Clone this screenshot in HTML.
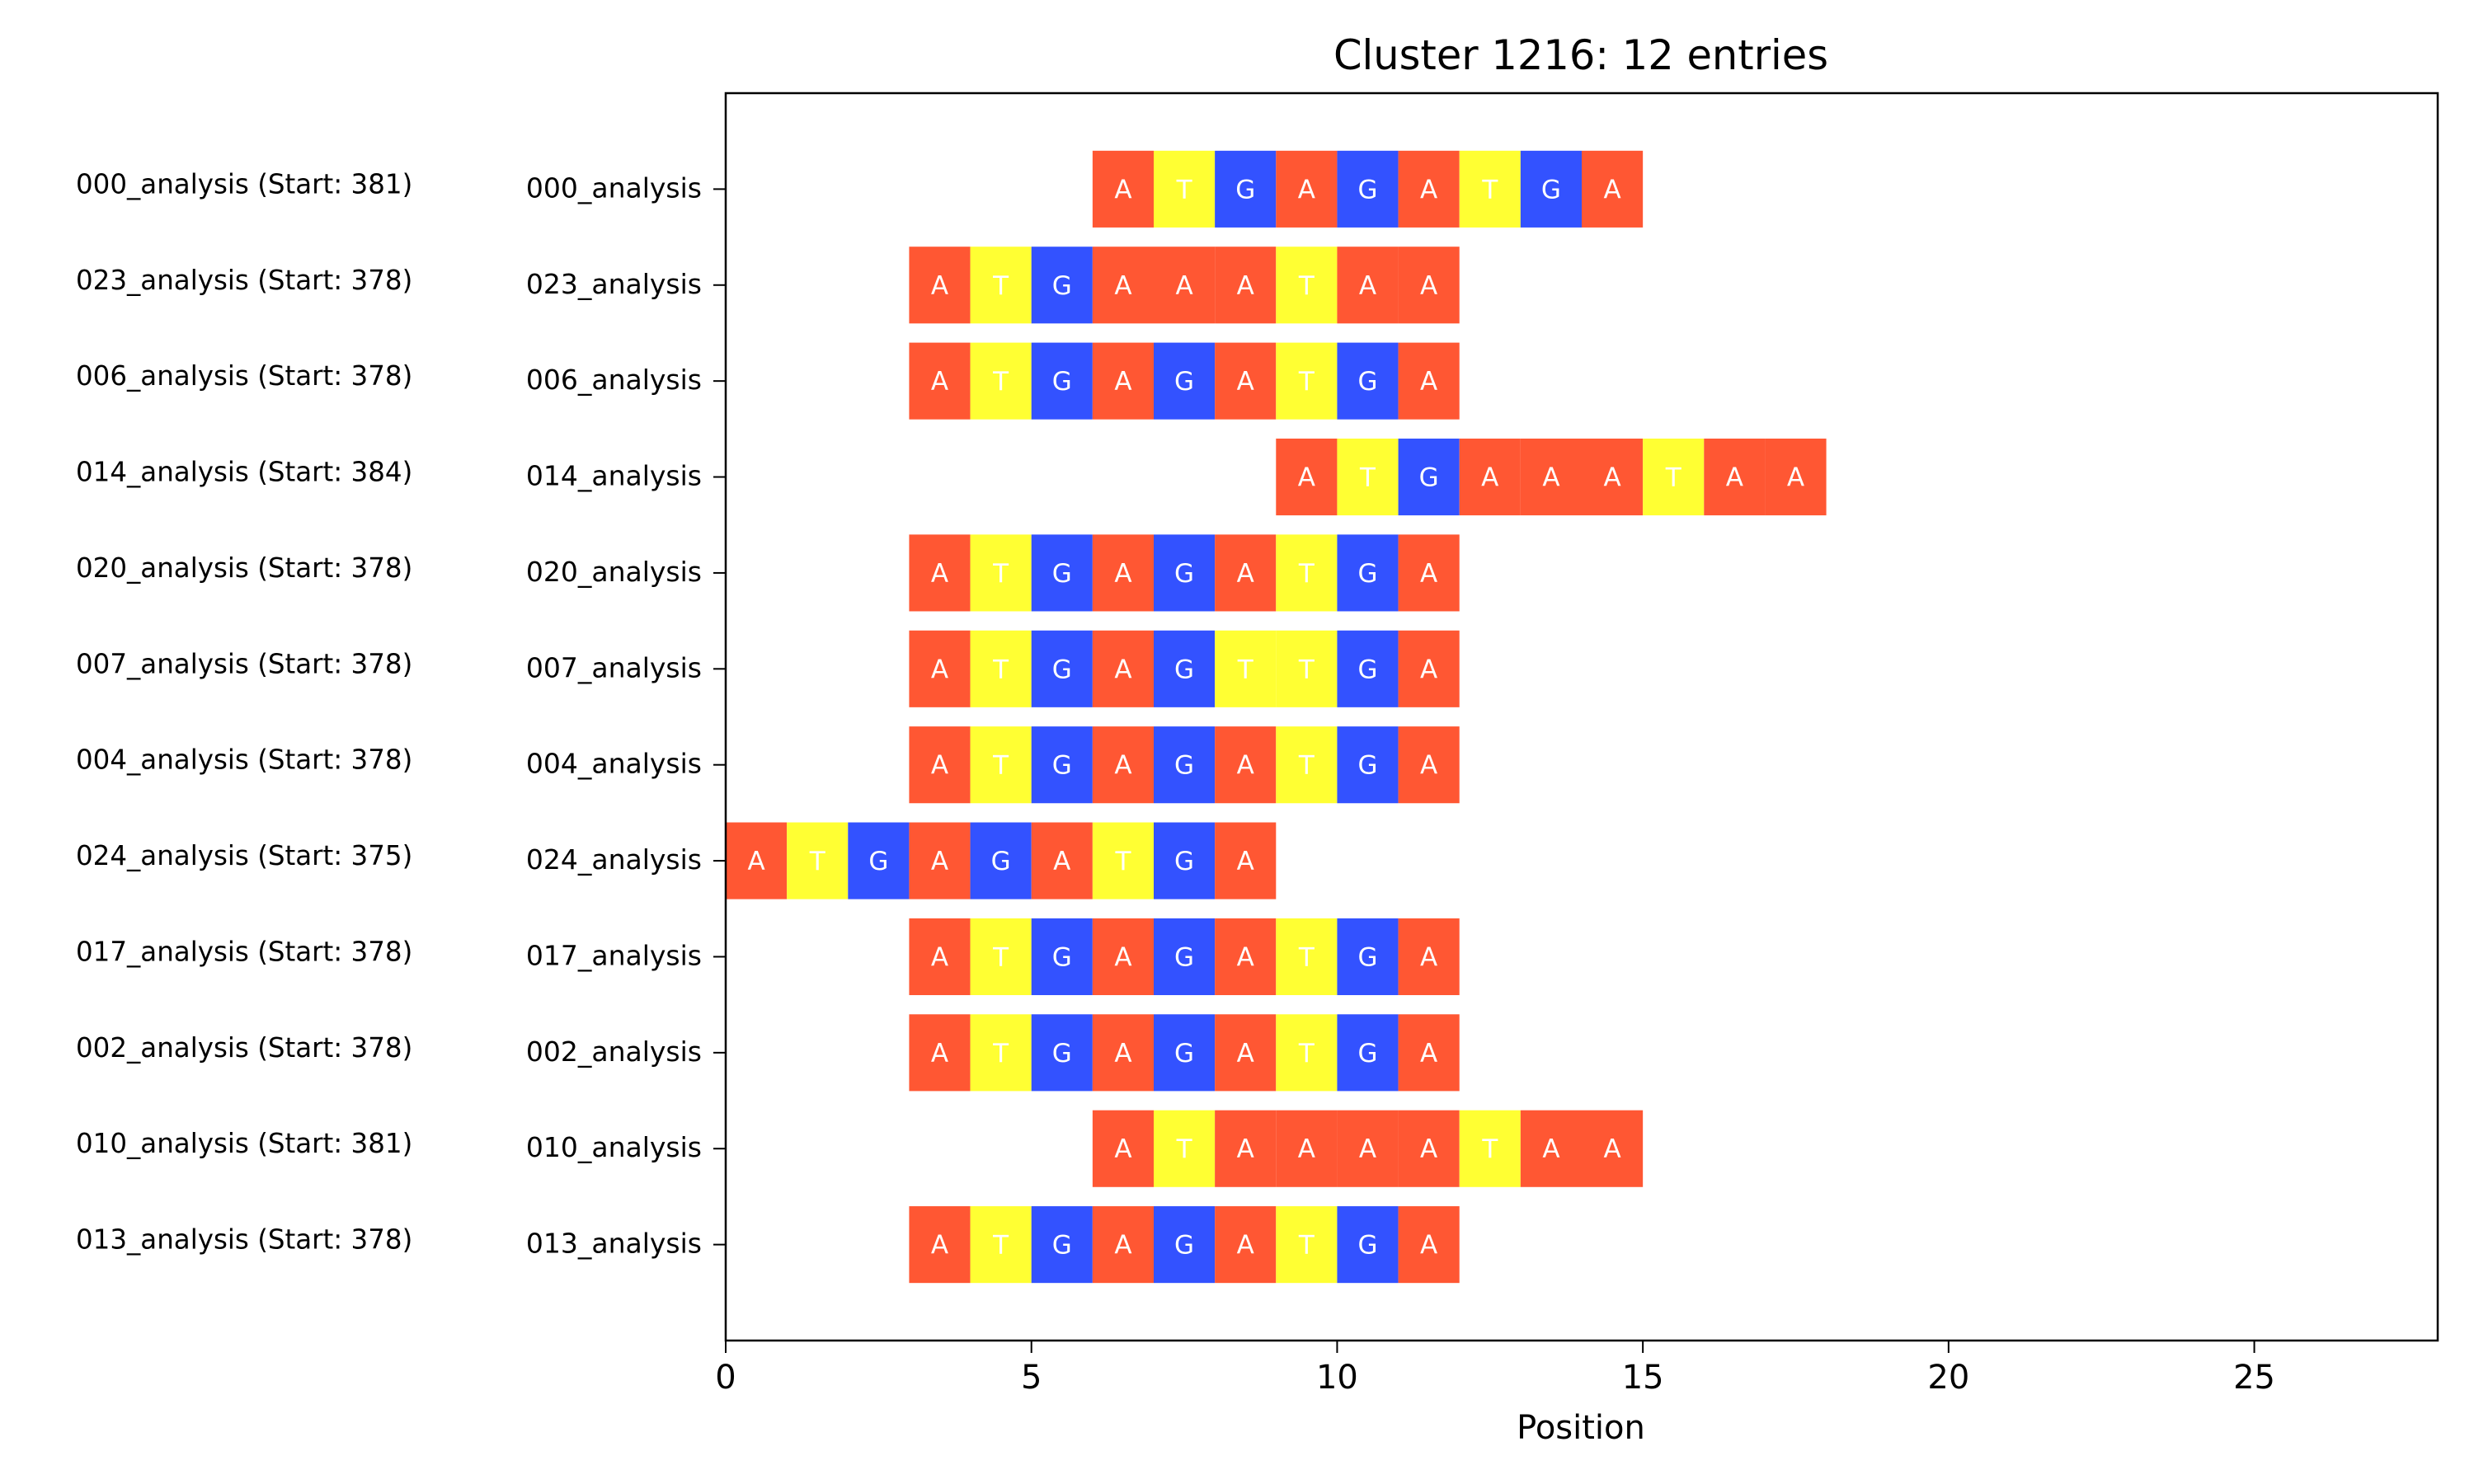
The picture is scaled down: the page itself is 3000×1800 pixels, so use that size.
<!DOCTYPE html>
<html><head><meta charset="utf-8"><style>
html,body{margin:0;padding:0;background:#fff}
svg{display:block}
text{font-family:"DejaVu Sans","Liberation Sans",sans-serif}
</style></head><body>
<svg id="chart" width="3000" height="1800" viewBox="0 0 3000 1800">
<rect width="3000" height="1800" fill="#fff"/>
<text x="1917" y="84" font-size="49.5" text-anchor="middle">Cluster 1216: 12 entries</text>
<g id="marks"></g>
<rect x="880" y="113" width="2076" height="1513" fill="none" stroke="#000" stroke-width="2.5"/>
<text x="1917" y="1745" font-size="40" text-anchor="middle">Position</text>
</svg>
<script>
const names = ["000_analysis","023_analysis","006_analysis","014_analysis","020_analysis","007_analysis","004_analysis","024_analysis","017_analysis","002_analysis","010_analysis","013_analysis"];
const starts = [381,378,378,384,378,378,378,375,378,378,381,378];
const seqs = ["ATGAGATGA","ATGAAATAA","ATGAGATGA","ATGAAATAA","ATGAGATGA","ATGAGTTGA","ATGAGATGA","ATGAGATGA","ATGAGATGA","ATGAGATGA","ATAAAATAA","ATGAGATGA"];
const xTicks = [0,5,10,15,20,25];
const colors = {A:"#FF5733",T:"#FFFF33",G:"#3352FF"};
const NS="http://www.w3.org/2000/svg";
const L=880,R=2956,T=113,B=1626;
const xMax=28;
const xs=v=>L+(v/xMax)*(R-L);
const rowH=(B-T)/13;
const ys=i=>T+(i+1)*rowH;
const minStart=Math.min(...starts);
const g=document.getElementById('marks');
const svg=document.getElementById('chart');
function mk(tag,attrs,parent){const e=document.createElementNS(NS,tag);for(const k in attrs)e.setAttribute(k,attrs[k]);(parent||g).appendChild(e);return e;}
names.forEach((n,i)=>{
  const off=starts[i]-minStart;
  const cy=ys(i);
  for(let j=0;j<seqs[i].length;j++){
    const b=seqs[i][j];
    const r=mk('rect',{x:xs(off+j),y:cy-0.4*rowH,width:xs(off+j+1)-xs(off+j),height:0.8*rowH,fill:colors[b]});
    
    
    const t=mk('text',{x:(xs(off+j)+xs(off+j+1))/2,y:cy+11,'font-size':31,fill:'#fff','text-anchor':'middle'});
    t.textContent=b;
    
    
  }
  const tk=mk('line',{x1:L-15,x2:L,y1:cy,y2:cy,stroke:'#000','stroke-width':2},svg);
  
  
  const yl=mk('text',{x:L-29,y:cy+10,'font-size':33,'text-anchor':'end'},svg);
  yl.textContent=n;
  
  
  const sl=mk('text',{x:92,y:cy+5,'font-size':32.5},svg);
  sl.textContent=n+" (Start: "+starts[i]+")";
  
  
});
xTicks.forEach(v=>{
  const tk=mk('line',{x1:xs(v),x2:xs(v),y1:B,y2:B+15,stroke:'#000','stroke-width':2},svg);
  
  
  const tl=mk('text',{x:xs(v),y:B+58,'font-size':40,'text-anchor':'middle'},svg);
  tl.textContent=v;
  
  
});
</script>
</body></html>
